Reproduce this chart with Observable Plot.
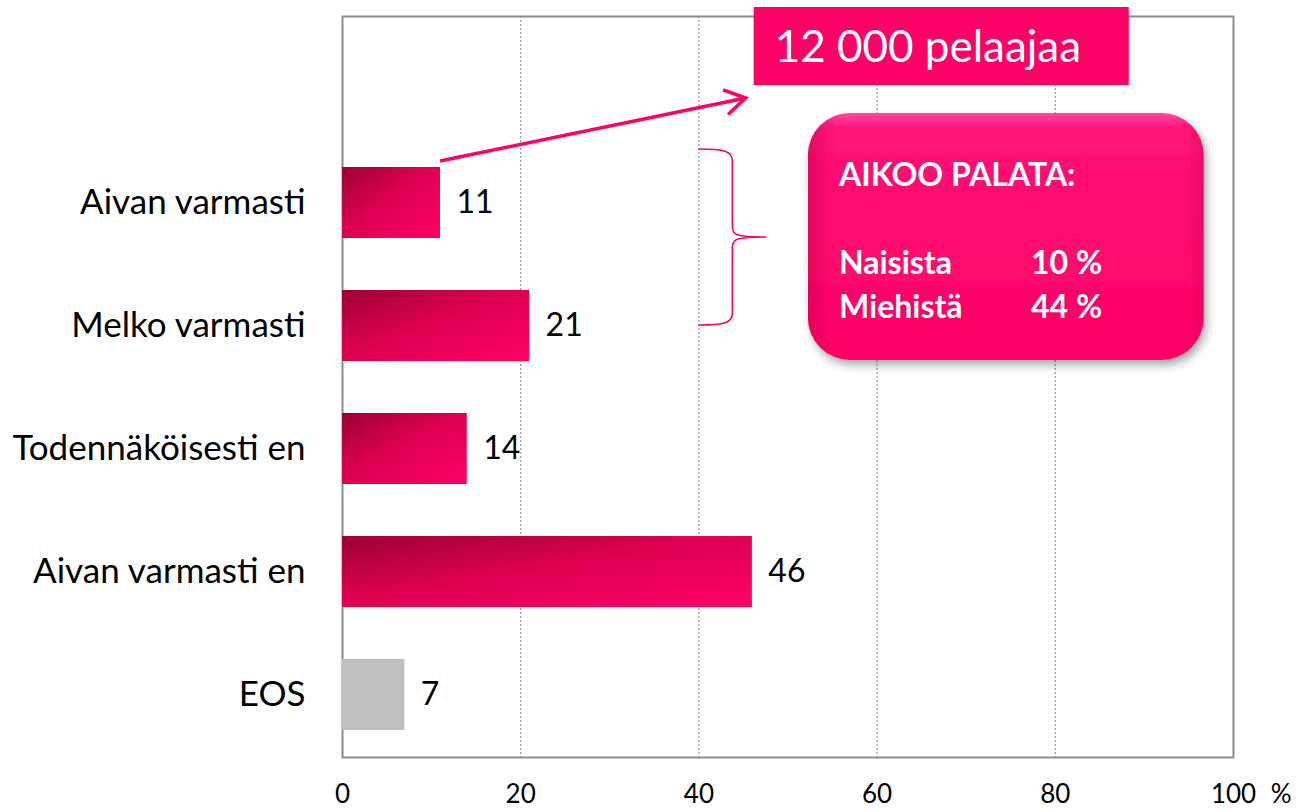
<!DOCTYPE html>
<html><head><meta charset="utf-8">
<script src="https://cdn.jsdelivr.net/npm/d3@7"></script>
<script src="https://cdn.jsdelivr.net/npm/@observablehq/plot@0.6"></script>
<style>body{margin:0;background:#fff;} #chart{width:1309px;height:810px;}</style>
</head><body><div id="chart"></div>
<script>
const categories = ["Aivan varmasti","Melko varmasti","Todennäköisesti en","Aivan varmasti en","EOS"];
const values = [11, 21, 14, 46, 7];
const barKinds = ["answer","answer","answer","answer","dontknow"];
const xTicks = [0, 20, 40, 60, 80, 100];
const gridTicks = [20, 40, 60, 80];
const unitLabel = "%";
const calloutTitle = "12 000 pelaajaa";
const boxTitle = "AIKOO PALATA:";
const boxRows = ["Naisista", "Miehistä"];
const boxValues = ["10 %", "44 %"];

const data = categories.map((c, i) => ({category: c, value: values[i], kind: barKinds[i]}));
const FONT = "Lato, 'Open Sans', sans-serif";

const chart = Plot.plot({
  width: 1309, height: 810,
  marginLeft: 342, marginRight: 76, marginTop: 16, marginBottom: 53,
  style: {fontFamily: FONT, fontSize: "28px", color: "#000", background: "#fff", overflow: "visible"},
  x: {domain: [0, 100], label: null},
  y: {domain: categories, range: [139.5, 757], paddingInner: 0.425, paddingOuter: 0.2125, label: null},
  marks: [
    Plot.gridX(gridTicks, {stroke: "#8a8a8a", strokeOpacity: 1, strokeDasharray: "2,2", strokeWidth: 1.1}),
    Plot.frame({stroke: "#8c8c8c", strokeWidth: 2}),
    Plot.barX(data.filter(d => d.kind === "answer"), {x: "value", y: "category", fill: "url(#barGrad)"}),
    Plot.barX(data.filter(d => d.kind !== "answer"), {x: "value", y: "category", fill: "#bfbfbf"}),
    Plot.text(data, {x: "value", y: "category", text: d => String(d.value), textAnchor: "start", dx: 16, fontSize: 32, fill: "#000"}),
    Plot.axisY({tickSize: 0, tickPadding: 37, fontSize: 35, label: null}),
    Plot.axisX(xTicks, {tickSize: 0, tickPadding: 27, fontSize: 26, label: null}),
    Plot.text([unitLabel], {frameAnchor: "bottom-right", dx: 58, dy: 45, fontSize: 26, fill: "#000"})
  ]
});

const svg = d3.select(chart);
const defs = svg.insert("defs", ":first-child");
const g1 = defs.append("linearGradient").attr("id", "barGrad")
  .attr("x1", 0).attr("y1", 0).attr("x2", 1).attr("y2", 1);
g1.append("stop").attr("offset", "0%").attr("stop-color", "#9c0036");
g1.append("stop").attr("offset", "45%").attr("stop-color", "#dc0050");
g1.append("stop").attr("offset", "100%").attr("stop-color", "#ff0066");

const g2 = defs.append("linearGradient").attr("id", "boxGrad")
  .attr("x1", 0).attr("y1", 0).attr("x2", 0).attr("y2", 1);
g2.append("stop").attr("offset", "0%").attr("stop-color", "#ff4aa2");
g2.append("stop").attr("offset", "6%").attr("stop-color", "#ff1478");
g2.append("stop").attr("offset", "100%").attr("stop-color", "#ff0066");
const g3 = defs.append("linearGradient").attr("id", "boxEdge")
  .attr("x1", 0).attr("y1", 0).attr("x2", 1).attr("y2", 0);
g3.append("stop").attr("offset", "0%").attr("stop-color", "#c8004f").attr("stop-opacity", 0.6);
g3.append("stop").attr("offset", "8%").attr("stop-color", "#ff0066").attr("stop-opacity", 0);
g3.append("stop").attr("offset", "94%").attr("stop-color", "#ff0066").attr("stop-opacity", 0);
g3.append("stop").attr("offset", "100%").attr("stop-color", "#c8004f").attr("stop-opacity", 0.4);
const f = defs.append("filter").attr("id", "shadow").attr("x", "-10%").attr("y", "-10%").attr("width", "130%").attr("height", "130%");
f.append("feDropShadow").attr("dx", 3).attr("dy", 5).attr("stdDeviation", 5).attr("flood-color", "#000").attr("flood-opacity", 0.35);

const xs = chart.scale("x");
const ys = chart.scale("y");
const X = v => xs.apply(v);
const ann = svg.append("g").attr("text-anchor", "start").attr("font-family", FONT);

// arrow from first bar to callout
const ax0 = X(values[0]), ay0 = ys.apply(categories[0]) - 6;
const ax1 = X(45.3), ay1 = 98;
ann.append("line").attr("x1", ax0).attr("y1", ay0).attr("x2", ax1).attr("y2", ay1)
  .attr("stroke", "#ff0066").attr("stroke-width", 3.5);
const ang = Math.atan2(ay1 - ay0, ax1 - ax0);
const hl = 24, ha = 0.55;
ann.append("path")
  .attr("d", `M${ax1 - hl*Math.cos(ang - ha)},${ay1 - hl*Math.sin(ang - ha)} L${ax1},${ay1} L${ax1 - hl*Math.cos(ang + ha)},${ay1 - hl*Math.sin(ang + ha)}`)
  .attr("fill", "none").attr("stroke", "#ff0066").attr("stroke-width", 3.5).attr("stroke-linejoin", "miter");

// callout box
ann.append("rect").attr("x", X(46.2)).attr("y", 7).attr("width", X(88.3) - X(46.2)).attr("height", 78).attr("fill", "#ff0066");
ann.append("text").attr("x", X(46.2) + 21).attr("y", 62).attr("fill", "#fff")
  .attr("font-size", 44).text(calloutTitle);

// brace
const bx = X(40), by0 = 149, by1 = 325, bm = 237, bw = 34, tip = 34;
ann.append("path")
  .attr("d", `M${bx},${by0} C${bx+26},${by0} ${bx+bw},${by0+2} ${bx+bw},${by0+12} L${bx+bw},${bm-10} C${bx+bw},${bm-2} ${bx+bw+4},${bm} ${bx+bw+tip},${bm} C${bx+bw+4},${bm} ${bx+bw},${bm+2} ${bx+bw},${bm+10} L${bx+bw},${by1-12} C${bx+bw},${by1-2} ${bx+26},${by1} ${bx},${by1}`)
  .attr("fill", "none").attr("stroke", "#ff0066").attr("stroke-width", 1.6);

// rounded box
const rx0 = X(52.3), rx1 = X(96.7), ry0 = 113, ry1 = 360;
ann.append("rect").attr("x", rx0).attr("y", ry0).attr("width", rx1 - rx0).attr("height", ry1 - ry0)
  .attr("rx", 42).attr("fill", "url(#boxGrad)").attr("filter", "url(#shadow)");
ann.append("rect").attr("x", rx0).attr("y", ry0).attr("width", rx1 - rx0).attr("height", ry1 - ry0)
  .attr("rx", 42).attr("fill", "url(#boxEdge)");
const tx = rx0 + 31;
ann.append("text").attr("x", tx).attr("y", 186).attr("fill", "#fff").attr("font-weight", "bold")
  .attr("font-size", 32).text(boxTitle);
boxRows.forEach((r, i) => {
  const yy = 274 + i * 44;
  ann.append("text").attr("x", tx).attr("y", yy).attr("fill", "#fff").attr("font-weight", "bold")
    .attr("font-size", 32).text(r);
  ann.append("text").attr("x", rx0 + 223).attr("y", yy).attr("fill", "#fff").attr("font-weight", "bold")
    .attr("font-size", 32).text(boxValues[i]);
});

document.getElementById("chart").appendChild(chart);
</script>
</body></html>
